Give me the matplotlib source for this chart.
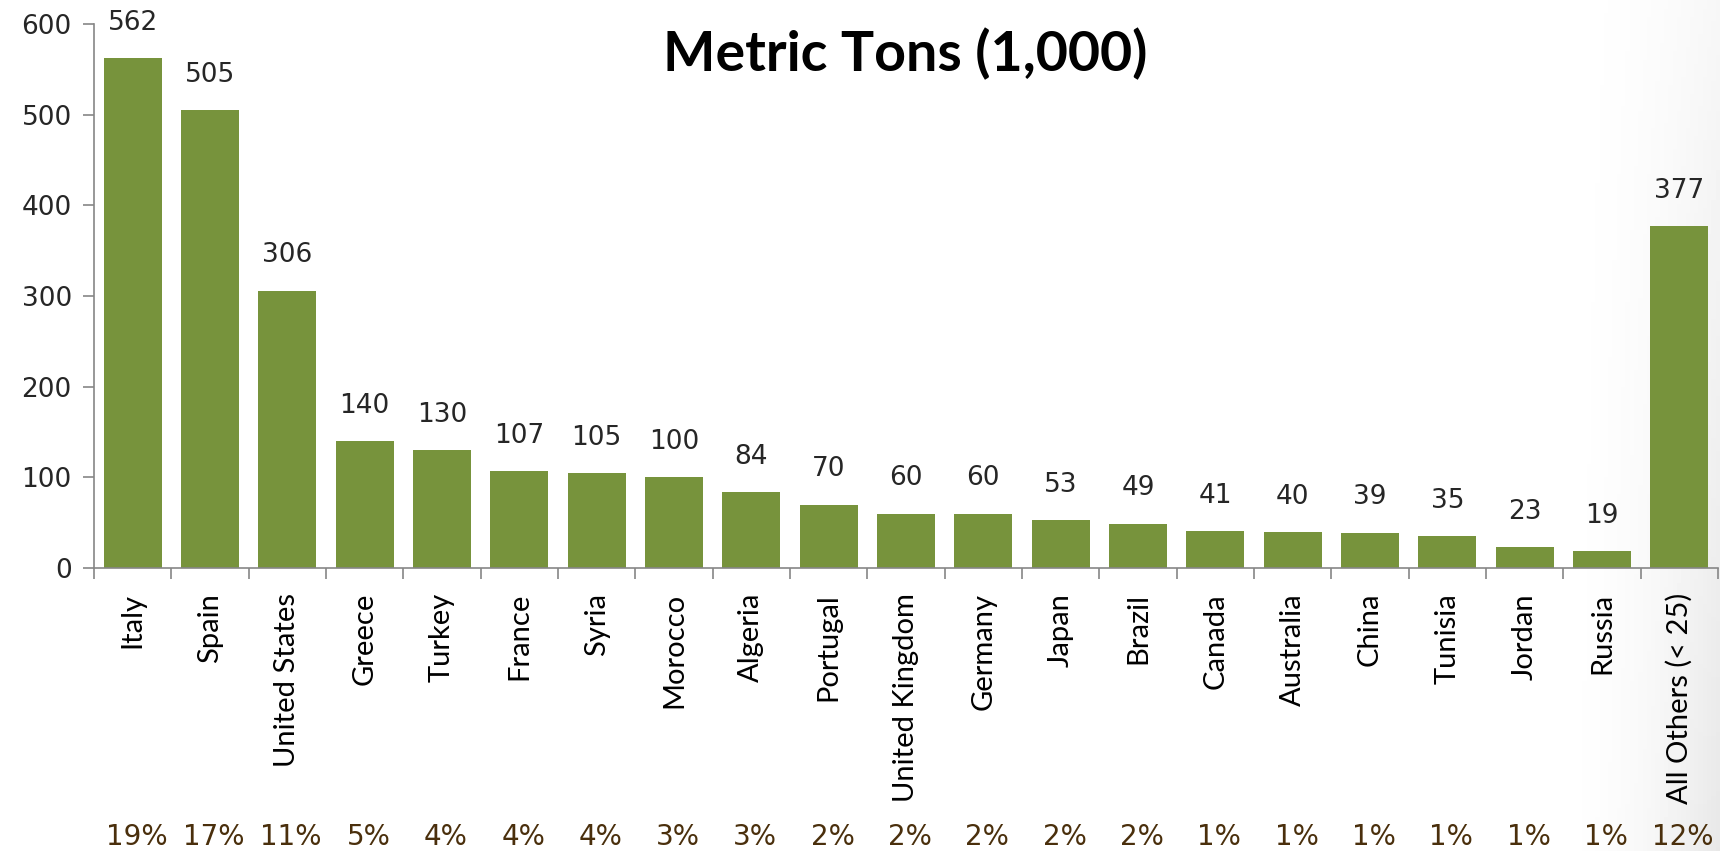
import numpy as np
import matplotlib.pyplot as plt
from matplotlib.transforms import blended_transform_factory

# data
countries = ["Italy", "Spain", "United States", "Greece", "Turkey", "France",
             "Syria", "Morocco", "Algeria", "Portugal", "United Kingdom",
             "Germany", "Japan", "Brazil", "Canada", "Australia", "China",
             "Tunisia", "Jordan", "Russia", "All Others (< 25)"]
tons = [562, 505, 306, 140, 130, 107, 105, 100, 84, 70, 60, 60, 53, 49,
        41, 40, 39, 35, 23, 19, 377]
shares = ["19%", "17%", "11%", "5%", "4%", "4%", "4%", "3%", "3%", "2%",
          "2%", "2%", "2%", "2%", "1%", "1%", "1%", "1%", "1%", "1%", "12%"]

plt.rcParams["font.family"] = ["DejaVu Sans"]
bar_color = "#77933C"
axis_gray = "#868686"

fig = plt.figure(figsize=(17.2, 8.51), dpi=100)

# faint slide shading towards the right edge
bg = fig.add_axes([0, 0, 1, 1], zorder=-1)
gx = np.linspace(0, 1, 400)
gy = np.linspace(0, 1, 200)
GX, GY = np.meshgrid(gx, gy)
shade = np.clip((GX - 0.9) / 0.1, 0, 1) ** 2 * (0.35 + 0.65 * GY) * 0.09
bg.imshow(1 - shade, cmap="gray", vmin=0, vmax=1, aspect="auto",
          extent=[0, 1, 0, 1], origin="upper")
bg.axis("off")

ax = fig.add_axes([94 / 1720, 1 - 568 / 851, 1624 / 1720, 544 / 851])
ax.patch.set_alpha(0)

x = np.arange(len(countries))
ax.bar(x, tons, width=0.75, color=bar_color, zorder=2)

# value labels above the bars
for xi, v in zip(x, tons):
    ax.annotate(f"{v}", xy=(xi, v), xytext=(0, 16), textcoords="offset points",
                ha="center", va="bottom", fontsize=19, color="#262626")

ax.set_xlim(-0.5, len(countries) - 0.5)
ax.set_ylim(0, 600)
ax.set_yticks(range(0, 601, 100))
ax.tick_params(axis="y", labelsize=19, length=8, width=1.2, color=axis_gray,
               labelcolor="#262626", pad=8)

# category names centred under bars, ticks between categories
ax.set_xticks(x)
ax.set_xticklabels(countries, rotation=90, fontsize=21, color="black",
                   family=["Lato", "DejaVu Sans"])
ax.tick_params(axis="x", length=0, pad=18)
ax.set_xticks(np.arange(-0.5, len(countries), 1), minor=True)
ax.tick_params(axis="x", which="minor", length=8, width=1.2, color=axis_gray)

for side in ["top", "right"]:
    ax.spines[side].set_visible(False)
for side in ["left", "bottom"]:
    ax.spines[side].set_color(axis_gray)
    ax.spines[side].set_linewidth(1.2)

# share of total along the bottom
trans = blended_transform_factory(ax.transData, fig.transFigure)
for xi, s in zip(x, shares):
    ax.text(xi + 0.05, 1 - 837 / 851, s, transform=trans, ha="center",
            va="center", fontsize=20, color="#4A2F0C", clip_on=False)

fig.text(905 / 1720, 1 - 54 / 851, "Metric Tons (1,000)", ha="center",
         va="center", fontsize=40, fontweight="bold", color="black",
         family=["Lato", "DejaVu Sans"])

fig.savefig("out.png", dpi=100)
